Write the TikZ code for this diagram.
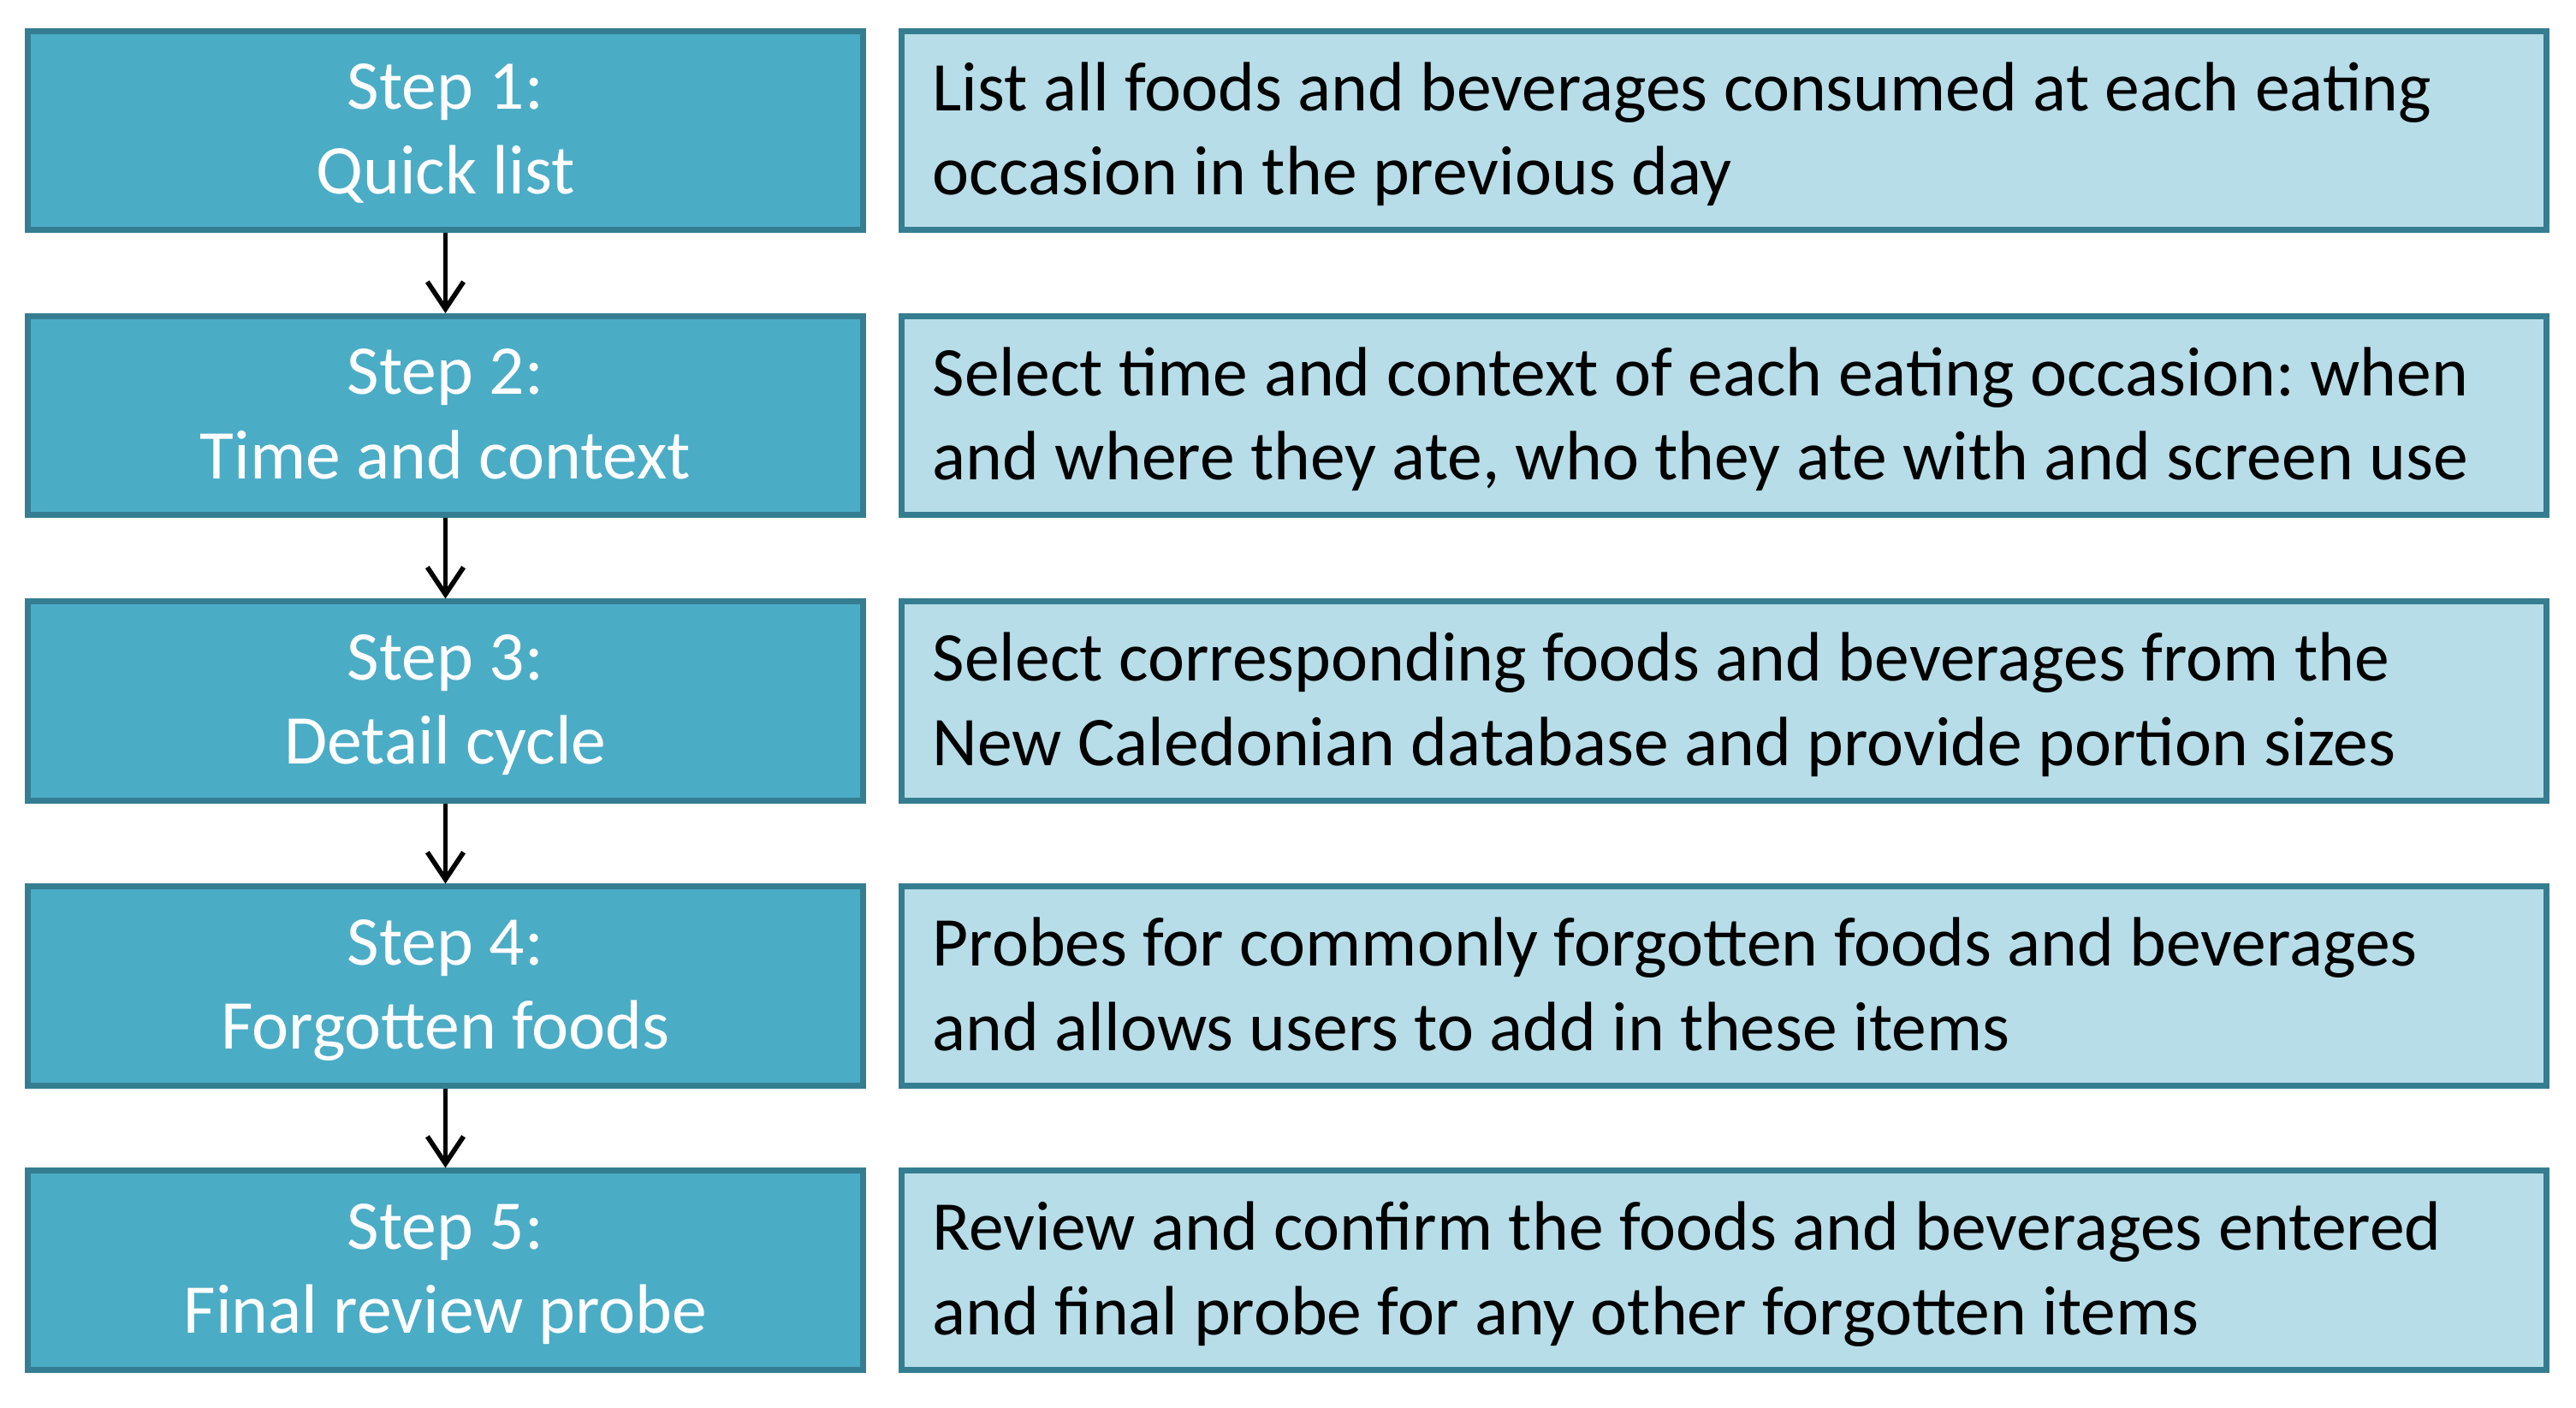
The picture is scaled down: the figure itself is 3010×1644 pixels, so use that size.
\documentclass[tikz,border=0pt]{standalone}
\usepackage{fontspec}
\setmainfont{Carlito}
\usetikzlibrary{arrows.meta}
\definecolor{lfill}{HTML}{4BACC6}
\definecolor{rfill}{HTML}{B7DDE8}
\definecolor{edgec}{HTML}{357D91}
\frenchspacing
\begin{document}
\begin{tikzpicture}[x=0.01cm,y=-0.01cm,
  txt/.style={font=\fontsize{23.2}{28}\selectfont\frenchspacing},
  lbox/.style={txt, draw=edgec, line width=2pt, fill=lfill, minimum width=9.75cm, minimum height=2.32cm, text=white, align=center, inner sep=0pt, text depth=0.04cm},
  rbox/.style={draw=edgec, line width=2pt, fill=rfill, minimum width=19.21cm, minimum height=2.32cm, inner sep=0pt},
  rtext/.style={txt, anchor=west, align=left, inner sep=0pt, text=black, text depth=0.05cm},
  arr/.style={line width=1.6pt, -{Straight Barb[length=9pt,width=12pt,line width=1.6pt]}}]
\useasboundingbox (0,0) rectangle (3010,1644);
\node[lbox] (s1) at (520.5,152.5) {Step 1:\\Quick list};
\node[lbox] (s2) at (520.5,485.5) {Step 2:\\Time and context};
\node[lbox] (s3) at (520.5,819) {Step 3:\\Detail cycle};
\node[lbox] (s4) at (520.5,1152) {Step 4:\\Forgotten foods};
\node[lbox] (s5) at (520.5,1484) {Step 5:\\Final review probe};
\node[rbox] (d1) at (2014.5,152.5) {};
\node[rbox] (d2) at (2014.5,485.5) {};
\node[rbox] (d3) at (2014.5,819) {};
\node[rbox] (d4) at (2014.5,1152) {};
\node[rbox] (d5) at (2014.5,1484) {};
\node[rtext] (t1) at ([xshift=0.39cm]d1.west) {List all foods and beverages consumed at each eating\\occasion in the previous day};
\node[rtext] (t2) at ([xshift=0.39cm]d2.west) {Select time and context of each eating occasion: when\\and where they ate, who they ate with and screen use};
\node[rtext] (t3) at ([xshift=0.39cm]d3.west) {Select corresponding foods and beverages from the\\New Caledonian database and provide portion sizes};
\node[rtext] (t4) at ([xshift=0.39cm]d4.west) {Probes for commonly forgotten foods and beverages\\and allows users to add in these items};
\node[rtext] (t5) at ([xshift=0.39cm]d5.west) {Review and confirm the foods and beverages entered\\and final probe for any other forgotten items};
\draw[arr] (s1.south) -- (s2.north);
\draw[arr] (s2.south) -- (s3.north);
\draw[arr] (s3.south) -- (s4.north);
\draw[arr] (s4.south) -- (s5.north);
\end{tikzpicture}
\end{document}
